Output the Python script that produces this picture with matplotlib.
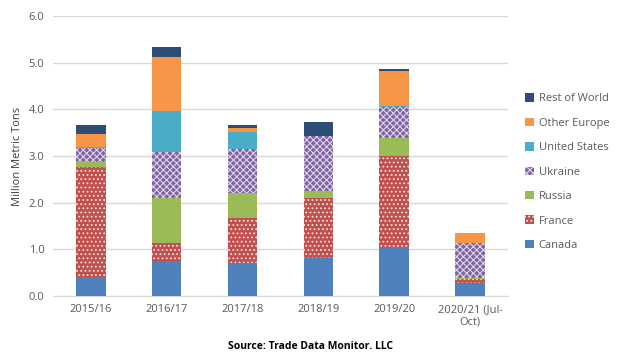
import matplotlib
matplotlib.use("Agg")
from matplotlib import pyplot as plt
import numpy as np

plt.rcParams['font.family'] = ['Open Sans', 'DejaVu Sans']
plt.rcParams['hatch.linewidth'] = 0.8

years = ['2015/16', '2016/17', '2017/18', '2018/19', '2019/20', '2020/21 (Jul-\nOct)']
canada = [0.40, 0.75, 0.71, 0.82, 1.04, 0.27]
france = [2.36, 0.38, 0.97, 1.29, 1.96, 0.09]
russia = [0.12, 0.96, 0.53, 0.13, 0.39, 0.03]
ukraine = [0.29, 1.00, 0.95, 1.19, 0.66, 0.74]
united_states = [0.02, 0.88, 0.36, 0.00, 0.03, 0.00]
other_europe = [0.28, 1.15, 0.08, 0.00, 0.75, 0.21]
rest_of_world = [0.19, 0.22, 0.06, 0.29, 0.04, 0.01]

series = [
    ('Canada', canada, '#4F81BD', None),
    ('France', france, '#C0504D', '....'),
    ('Russia', russia, '#9BBB59', None),
    ('Ukraine', ukraine, '#8064A2', 'xxxxx'),
    ('United States', united_states, '#4BACC6', None),
    ('Other Europe', other_europe, '#F79646', None),
    ('Rest of World', rest_of_world, '#2C4D75', None),
]

fig = plt.figure(figsize=(6.21, 3.57), dpi=100)
ax = fig.add_axes([0.085, 0.171, 0.733, 0.784])

x = np.arange(len(years))
bottom = np.zeros(len(years))
handles = []
for name, vals, col, hatch in series:
    if hatch:
        b = ax.bar(x, vals, 0.39, bottom=bottom, color=col, hatch=hatch,
                   edgecolor='#DDD3EA' if name == 'Ukraine' else '#F4E0E0',
                   linewidth=0, label=name, zorder=3)
    else:
        b = ax.bar(x, vals, 0.39, bottom=bottom, color=col, linewidth=0,
                   label=name, zorder=3)
    handles.append(b)
    bottom += np.array(vals)

ax.set_ylim(0, 6)
ax.set_xlim(-0.5, 5.5)
ax.set_yticks(np.arange(0, 6.5, 1.0))
ax.set_yticklabels(['%.1f' % v for v in np.arange(0, 6.5, 1.0)])
ax.set_xticks(x)
ax.set_xticklabels(years)
ax.yaxis.grid(True, color='#D9D9D9', linewidth=1)
ax.set_axisbelow(True)
for s in ['top', 'right', 'left']:
    ax.spines[s].set_visible(False)
ax.spines['bottom'].set_color('#D9D9D9')
ax.tick_params(axis='both', length=0, labelsize=8, colors='#595959', pad=6)
ax.set_ylabel('Million Metric Tons', fontsize=8, color='#404040')

leg = fig.legend(handles[::-1], [s[0] for s in series][::-1],
                 loc='center left', bbox_to_anchor=(0.83, 0.518),
                 frameon=False, fontsize=8, labelspacing=1.2,
                 handlelength=0.8, handleheight=0.8, handletextpad=0.4)
for t in leg.get_texts():
    t.set_color('#595959')

fig.text(0.5, 0.03, 'Source: Trade Data Monitor. LLC', ha='center', va='center',
         fontsize=7.5, fontweight='bold', color='black')

fig.savefig('out.png', dpi=100)
